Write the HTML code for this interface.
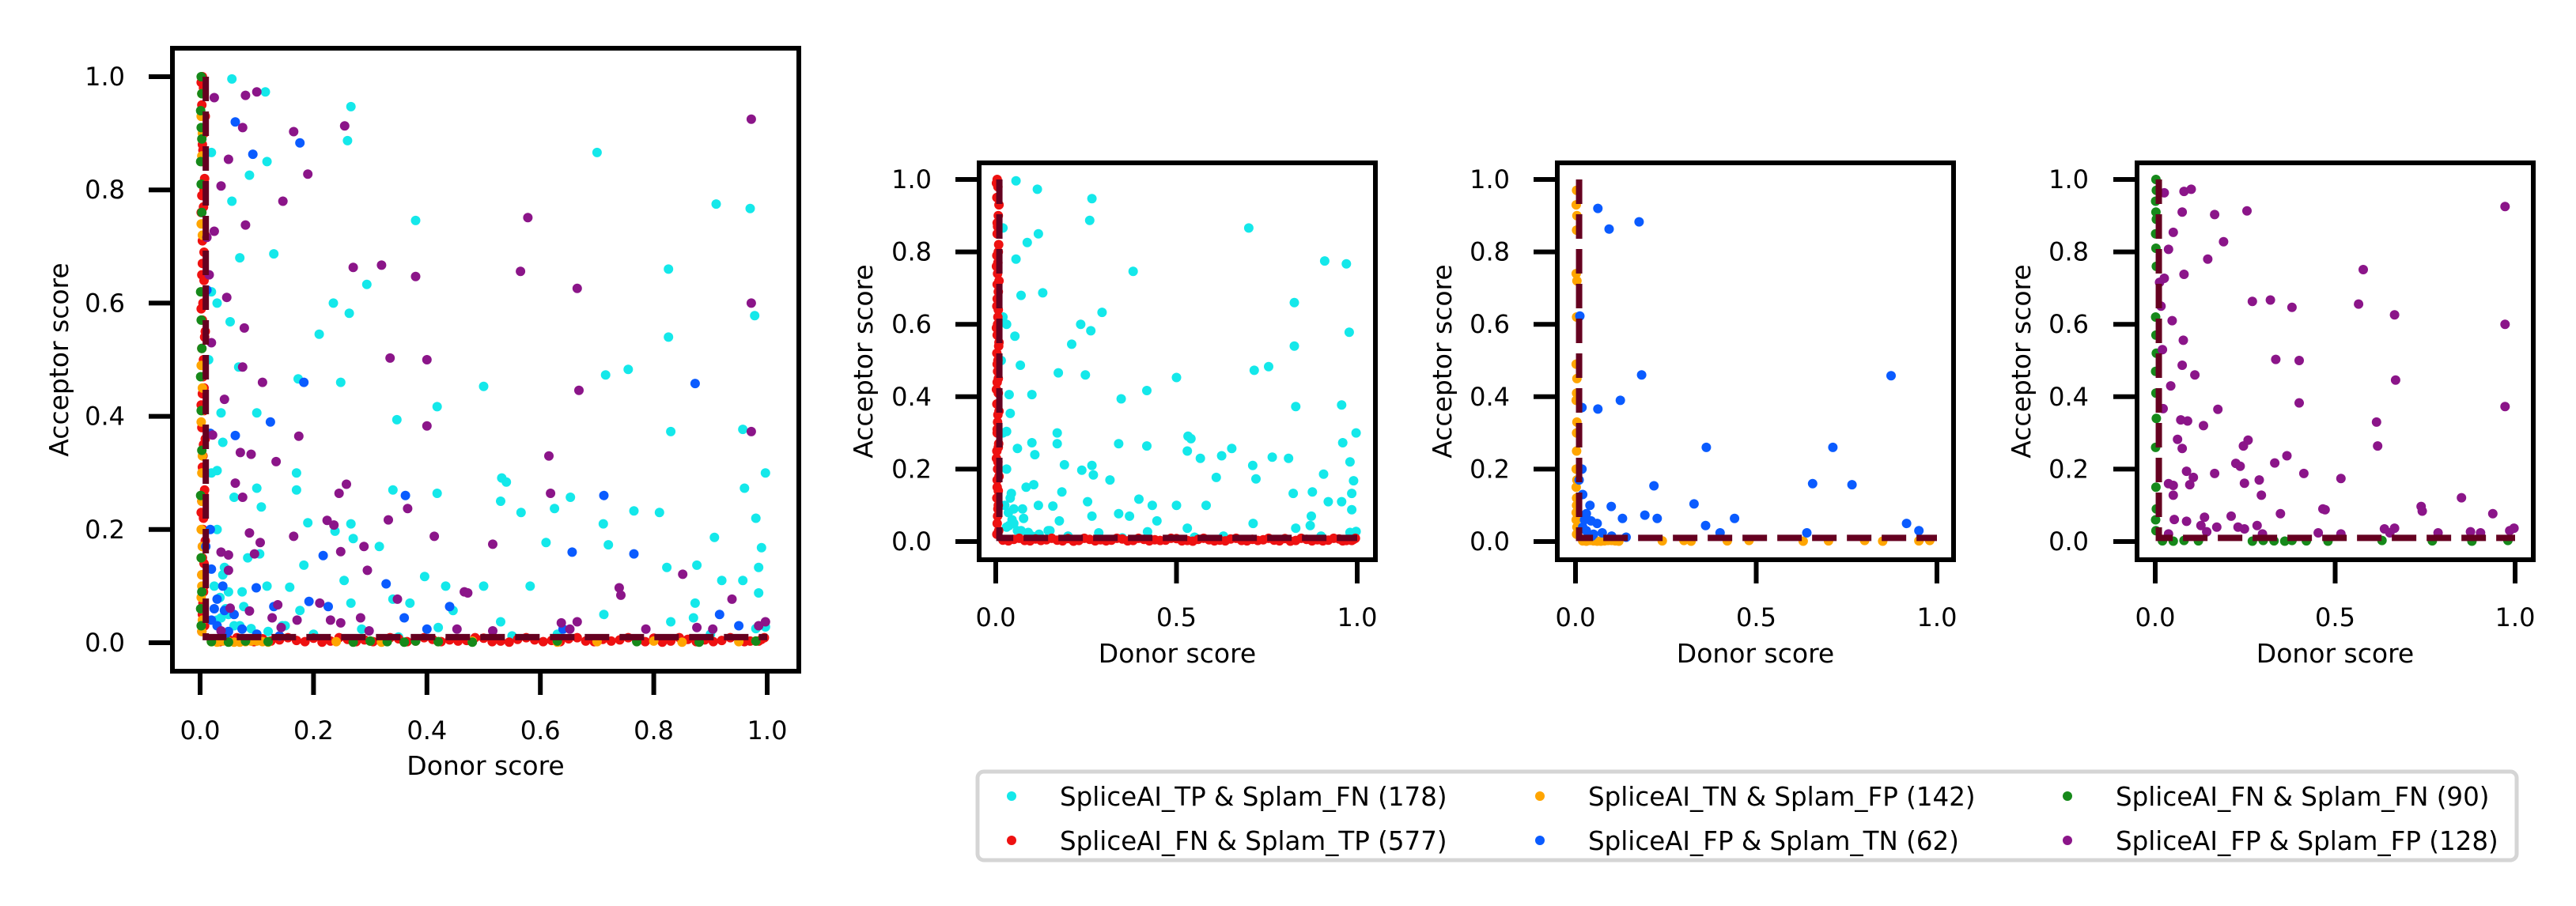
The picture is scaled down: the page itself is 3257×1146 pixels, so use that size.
<!DOCTYPE html>
<html><head><meta charset="utf-8"><style>
html,body{margin:0;padding:0;background:#fff;}
svg{display:block;font-family:"DejaVu Sans","Liberation Sans",sans-serif;}
</style></head><body>
<svg id="fig" width="3257" height="1146" viewBox="0 0 3257 1146" xmlns="http://www.w3.org/2000/svg">
<rect width="3257" height="1146" fill="#fff"/>
</svg>
<script>
const xTicksMain=[0,0.2,0.4,0.6,0.8,1.0];
const xTickLabelsMain=["0.0","0.2","0.4","0.6","0.8","1.0"];
const xTicksSub=[0,0.5,1.0];
const xTickLabelsSub=["0.0","0.5","1.0"];
const yTicks=[0,0.2,0.4,0.6,0.8,1.0];
const yTickLabels=["0.0","0.2","0.4","0.6","0.8","1.0"];
const thresh=0.01;
const cyanX=[0.056,0.115,0.266,0.26,0.70,0.02,0.118,0.087,0.056,0.91,0.97,0.38,0.13,0.07,0.826,0.294,0.235,0.263,0.978,0.053,0.21,0.826,0.068,0.173,0.248,0.50,0.755,0.715,0.037,0.10,0.418,0.347,0.83,0.957,0.04,0.03,0.17,0.997,0.532,0.54,0.34,0.418,0.96,0.10,0.06,0.653,0.17,0.53,0.108,0.625,0.566,0.765,0.81,0.98,0.19,0.266,0.711,0.238,0.27,0.61,0.72,0.316,0.907,0.99,0.084,0.105,0.183,0.823,0.876,0.985,0.043,0.396,0.254,0.92,0.957,0.118,0.50,0.582,0.433,0.158,0.074,0.985,0.266,0.34,0.37,0.446,0.176,0.873,0.077,0.712,0.037,0.53,0.83,0.87,0.997,0.145,0.285,0.42,0.02,0.03,0.015,0.02,0.03,0.04,0.05,0.06,0.10,0.20,0.35,0.55,0.63,0.90,0.98,0.025,0.035,0.045,0.03,0.05,0.07,0.09,0.12,0.15];
const cyanY=[0.996,0.973,0.947,0.887,0.866,0.866,0.85,0.826,0.78,0.775,0.767,0.746,0.687,0.68,0.66,0.633,0.60,0.582,0.578,0.567,0.545,0.54,0.487,0.466,0.46,0.453,0.483,0.473,0.406,0.406,0.417,0.394,0.373,0.377,0.354,0.304,0.30,0.30,0.291,0.284,0.27,0.264,0.273,0.273,0.257,0.257,0.27,0.25,0.24,0.237,0.23,0.233,0.23,0.22,0.212,0.21,0.21,0.197,0.184,0.177,0.173,0.17,0.186,0.168,0.15,0.157,0.137,0.133,0.137,0.133,0.133,0.117,0.11,0.11,0.11,0.10,0.10,0.10,0.10,0.098,0.09,0.088,0.07,0.077,0.07,0.057,0.057,0.07,0.064,0.05,0.044,0.037,0.037,0.044,0.028,0.03,0.024,0.027,0.62,0.60,0.50,0.30,0.20,0.12,0.09,0.03,0.015,0.015,0.01,0.012,0.015,0.015,0.025,0.1,0.08,0.06,0.04,0.05,0.03,0.025,0.02,0.03];
const redX=[0.004,0.006,0.003,0.007,0.005,0.004,0.008,0.003,0.006,0.005,0.004,0.007,0.003,0.006,0.005,0.004,0.008,0.003,0.006,0.005,0.004,0.007,0.003,0.006,0.005,0.004,0.008,0.003,0.006,0.005,0.004,0.007,0.003,0.006,0.005,0.004,0.008,0.003,0.02,0.05,0.08,0.11,0.14,0.17,0.2,0.23,0.26,0.29,0.32,0.35,0.38,0.41,0.44,0.47,0.5,0.53,0.56,0.59,0.62,0.65,0.68,0.71,0.74,0.77,0.8,0.83,0.86,0.89,0.92,0.95,0.97,0.99,0.035,0.125,0.215,0.305,0.455,0.545,0.635,0.725,0.815,0.905,0.985,0.002,0.009,0.004,0.007,0.002,0.009,0.004,0.007,0.002,0.009,0.004,0.007,0.002,0.009,0.004,0.007,0.002,0.009,0.004,0.007,0.065,0.095,0.155,0.185,0.245,0.275,0.335,0.365,0.395,0.425,0.485,0.515,0.575,0.605,0.665,0.695,0.755,0.785,0.845,0.875,0.935,0.96,0.995];
const redY=[1.0,0.98,0.95,0.9,0.87,0.85,0.82,0.79,0.77,0.74,0.71,0.69,0.65,0.62,0.6,0.57,0.54,0.52,0.5,0.47,0.44,0.41,0.38,0.35,0.33,0.3,0.27,0.25,0.22,0.2,0.17,0.14,0.12,0.09,0.07,0.05,0.03,0.02,0.004,0.006,0.003,0.007,0.005,0.004,0.008,0.003,0.006,0.005,0.004,0.007,0.003,0.006,0.005,0.004,0.008,0.003,0.006,0.005,0.004,0.007,0.003,0.006,0.005,0.004,0.008,0.003,0.006,0.005,0.004,0.007,0.003,0.006,0.002,0.003,0.001,0.002,0.003,0.001,0.002,0.003,0.001,0.002,0.003,0.99,0.93,0.88,0.8,0.76,0.72,0.67,0.64,0.59,0.55,0.49,0.45,0.42,0.36,0.31,0.26,0.23,0.18,0.15,0.1,0.009,0.002,0.009,0.002,0.009,0.002,0.009,0.002,0.009,0.002,0.009,0.002,0.009,0.002,0.009,0.002,0.009,0.002,0.009,0.002,0.009,0.002,0.009];
const orangeX=[0.003,0.002,0.004,0.003,0.002,0.004,0.003,0.002,0.004,0.003,0.002,0.004,0.003,0.002,0.004,0.003,0.002,0.004,0.003,0.02,0.04,0.06,0.08,0.10,0.12,0.24,0.30,0.32,0.42,0.48,0.63,0.70,0.80,0.85,0.95,0.98,0.002,0.003,0.002,0.003,0.03,0.05,0.07,0.09,0.11];
const orangeY=[0.97,0.93,0.90,0.86,0.74,0.72,0.62,0.49,0.45,0.41,0.39,0.33,0.25,0.20,0.17,0.12,0.08,0.04,0.02,0.002,0.003,0.001,0.002,0.003,0.001,0.002,0.003,0.001,0.002,0.003,0.001,0.002,0.003,0.001,0.002,0.003,0.15,0.1,0.06,0.3,0.001,0.002,0.001,0.003,0.002];
const blueX=[0.062,0.093,0.176,0.183,0.873,0.012,0.062,0.124,0.018,0.362,0.712,0.217,0.656,0.765,0.018,0.099,0.328,0.192,0.226,0.44,0.36,0.916,0.95,0.13,0.03,0.043,0.02,0.074,0.40,0.64,0.02,0.01,0.03,0.05,0.04,0.06,0.025,0.045,0.10,0.14];
const blueY=[0.92,0.863,0.883,0.46,0.458,0.623,0.366,0.39,0.37,0.26,0.26,0.154,0.16,0.157,0.20,0.097,0.104,0.073,0.064,0.064,0.044,0.05,0.03,0.064,0.077,0.057,0.04,0.024,0.024,0.024,0.13,0.17,0.03,0.02,0.10,0.05,0.06,0.015,0.015,0.012];
const greenX=[0.002,0.003,0.001,0.002,0.003,0.001,0.002,0.003,0.001,0.002,0.003,0.001,0.002,0.003,0.001,0.002,0.003,0.001,0.002,0.02,0.05,0.08,0.12,0.27,0.30,0.33,0.36,0.38,0.42,0.48,0.63,0.77,0.88,0.98];
const greenY=[1.0,0.97,0.94,0.91,0.89,0.85,0.81,0.76,0.62,0.57,0.52,0.47,0.41,0.34,0.26,0.15,0.09,0.06,0.03,0.002,0.001,0.003,0.002,0.001,0.003,0.002,0.001,0.003,0.002,0.001,0.003,0.002,0.001,0.003];
const purpleX=[0.08,0.10,0.075,0.165,0.255,0.025,0.05,0.19,0.037,0.146,0.08,0.012,0.025,0.972,0.578,0.27,0.32,0.38,0.565,0.665,0.972,0.047,0.016,0.078,0.02,0.075,0.11,0.335,0.40,0.668,0.043,0.40,0.174,0.022,0.972,0.071,0.09,0.134,0.615,0.618,0.062,0.245,0.258,0.366,0.075,0.224,0.236,0.332,0.087,0.106,0.165,0.289,0.413,0.248,0.516,0.037,0.05,0.096,0.05,0.295,0.851,0.739,0.742,0.466,0.472,0.348,0.211,0.137,0.938,0.053,0.087,0.127,0.171,0.23,0.248,0.283,0.637,0.665,0.652,0.786,0.876,0.904,0.997,0.985,0.453,0.516,0.037,0.143,0.298];
const purpleY=[0.967,0.973,0.91,0.903,0.913,0.963,0.854,0.828,0.807,0.78,0.738,0.716,0.727,0.925,0.751,0.663,0.667,0.647,0.656,0.626,0.60,0.61,0.65,0.556,0.53,0.487,0.46,0.503,0.50,0.446,0.43,0.383,0.365,0.367,0.373,0.336,0.333,0.32,0.33,0.264,0.282,0.264,0.28,0.237,0.257,0.216,0.208,0.217,0.194,0.177,0.188,0.17,0.188,0.161,0.174,0.16,0.155,0.157,0.128,0.128,0.121,0.097,0.084,0.09,0.088,0.077,0.07,0.067,0.077,0.061,0.056,0.044,0.04,0.04,0.035,0.044,0.035,0.037,0.024,0.024,0.027,0.024,0.037,0.03,0.024,0.021,0.021,0.027,0.021];

const NS="http://www.w3.org/2000/svg";
const svg=document.getElementById('fig');
function mk(tag,attrs,parent){const e=document.createElementNS(NS,tag);for(const k in attrs)e.setAttribute(k,attrs[k]);(parent||svg).appendChild(e);return e;}
const COL={cyan:"#14e8ea",red:"#ee1111",orange:"#ffa500",blue:"#0a5bff",green:"#16891a",purple:"#8b1589"};
const SER={cyan:[cyanX,cyanY],red:[redX,redY],orange:[orangeX,orangeY],blue:[blueX,blueY],green:[greenX,greenY],purple:[purpleX,purpleY]};

function panel(name,box,x0px,x1px,y0px,y1px,series,xt,xtl,ylabX,ytlRight,xtlY,xlabY){
  const g=mk('g',{});
  
  
  const sx=v=>x0px+(x1px-x0px)*v;
  const sy=v=>y0px+(y1px-y0px)*v;
  series.forEach(s=>{
    const sg=mk('g',{fill:COL[s]},g);
    
    
    const [X,Y]=SER[s];
    for(let i=0;i<X.length;i++){
      const c=mk('circle',{cx:sx(X[i]).toFixed(1),cy:sy(Y[i]).toFixed(1),r:6},sg);
      
      
    }
  });
  const th=mk('path',{d:`M${sx(thresh)},${sy(1)} L${sx(thresh)},${sy(thresh)} L${sx(1)},${sy(thresh)}`,stroke:"#650020",'stroke-width':8,fill:"none",'stroke-dasharray':"31,13"},g);
  
  
  const fr=mk('rect',{x:box[0],y:box[1],width:box[2]-box[0],height:box[3]-box[1],fill:"none",stroke:"#000",'stroke-width':6},g);
  
  
  xt.forEach((v,i)=>{
    mk('line',{x1:sx(v),x2:sx(v),y1:box[3],y2:box[3]+30,stroke:"#000",'stroke-width':6},g);
    const t=mk('text',{x:sx(v),y:xtlY,'font-size':32,'text-anchor':'middle'},g);
    t.textContent=xtl[i];
    
    
  });
  yTicks.forEach((v,i)=>{
    mk('line',{x1:box[0]-30,x2:box[0],y1:sy(v),y2:sy(v),stroke:"#000",'stroke-width':6},g);
    const t=mk('text',{x:ytlRight,y:sy(v)+11,'font-size':32,'text-anchor':'end'},g);
    t.textContent=yTickLabels[i];
    
    
  });
  const xl=mk('text',{x:(box[0]+box[2])/2,y:xlabY,'font-size':33,'text-anchor':'middle'},g);
  xl.textContent="Donor score";
  
  
  const yc=(box[1]+box[3])/2;
  const yl=mk('text',{x:ylabX,y:yc,'font-size':33,'text-anchor':'middle',transform:`rotate(-90 ${ylabX} ${yc})`},g);
  yl.textContent="Acceptor score";
  
  
}
panel('main-scatter',[218,61,1010,849],253,970,813,97,['cyan','red','orange','blue','green','purple'],xTicksMain,xTickLabelsMain,86,158,935,980);
panel('tp-fn-scatter',[1238,206,1739,708],1259,1716,685,227,['cyan','red'],xTicksSub,xTickLabelsSub,1103,1178,792,838);
panel('tn-fp-scatter',[1969,206,2470,708],1992,2449,685,227,['orange','blue'],xTicksSub,xTickLabelsSub,1835,1909,792,838);
panel('fn-fp-scatter',[2702,206,3203,708],2725,3180,685,227,['green','purple'],xTicksSub,xTickLabelsSub,2567,2641,792,838);

const legNames=["SpliceAI_TP & Splam_FN (178)","SpliceAI_FN & Splam_TP (577)","SpliceAI_TN & Splam_FP (142)","SpliceAI_FP & Splam_TN (62)","SpliceAI_FN & Splam_FN (90)","SpliceAI_FP & Splam_FP (128)"];
const legCols=['cyan','red','orange','blue','green','purple'];
const lg=mk('g',{});


mk('rect',{x:1236,y:976,width:1946,height:112,rx:8,fill:"#fff",stroke:"#d5d5d5",'stroke-width':5},lg);
const colX=[1279,1947,2614];
const rowY=[1007,1063];
legNames.forEach((n,i)=>{
  const c=Math.floor(i/2),r=i%2;
  const e=mk('g',{},lg);
  
  
  mk('circle',{cx:colX[c],cy:rowY[r],r:6,fill:COL[legCols[i]]},e);
  const t=mk('text',{x:colX[c]+61,y:rowY[r]+12,'font-size':32.5},e);
  t.textContent=n;
});
</script>
</body></html>
